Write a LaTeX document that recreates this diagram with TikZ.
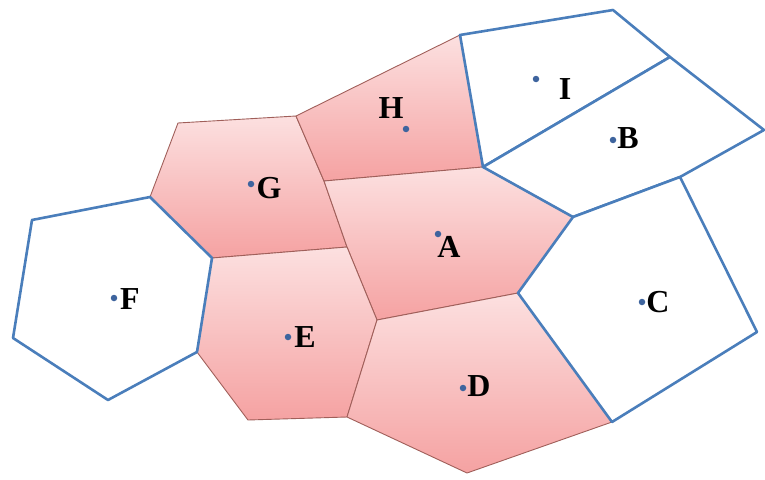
\documentclass[tikz,border=0pt]{standalone}
\usepackage{fontspec}
\setmainfont{Liberation Serif}
\definecolor{cellblue}{RGB}{74,126,187}
\definecolor{dotblue}{RGB}{62,100,158}
\definecolor{pinktop}{RGB}{252,224,224}
\definecolor{pinkbot}{RGB}{245,162,162}
\definecolor{pinkedge}{RGB}{160,95,90}
\tikzset{
  pinkcell/.style={top color=pinktop, bottom color=pinkbot, draw=pinkedge, line width=0.9pt, line join=round},
  whitecell/.style={fill=white, draw=cellblue, line width=2.6pt, line join=round},
  site/.style={circle, fill=dotblue, inner sep=0pt, minimum size=6.5pt},
  lab/.style={inner sep=0pt, font=\fontsize{32}{32}\selectfont\bfseries}
}
\begin{document}
\begin{tikzpicture}[x=1pt,y=-1pt]
\useasboundingbox (0,0) rectangle (765,479);
% vertices
\coordinate (p1) at (32,220);
\coordinate (p2) at (150,197);
\coordinate (p3) at (212,258);
\coordinate (p4) at (197,352);
\coordinate (p5) at (108,400);
\coordinate (p6) at (13,338);
\coordinate (g1) at (178,123);
\coordinate (g2) at (296,116);
\coordinate (g3) at (347,247);
\coordinate (h1) at (460,35);
\coordinate (h2) at (483,167);
\coordinate (h3) at (324,181);
\coordinate (i1) at (613,10);
\coordinate (i2) at (670,57);
\coordinate (b1) at (764,130);
\coordinate (b2) at (680,177);
\coordinate (b3) at (573,217);
\coordinate (c1) at (757,332);
\coordinate (c2) at (612,422);
\coordinate (c3) at (518,293);
\coordinate (a4) at (377,320);
\coordinate (d1) at (467,473);
\coordinate (d2) at (347,417);
\coordinate (e1) at (248,420);
% pink cells
\shade[pinkcell] (g1) -- (g2) -- (h3) -- (g3) -- (p3) -- (p2) -- cycle;
\shade[pinkcell] (g2) -- (h1) -- (h2) -- (h3) -- cycle;
\shade[pinkcell] (h3) -- (h2) -- (b3) -- (c3) -- (a4) -- (g3) -- cycle;
\shade[pinkcell] (p3) -- (g3) -- (a4) -- (d2) -- (e1) -- (p4) -- cycle;
\shade[pinkcell] (a4) -- (c3) -- (c2) -- (d1) -- (d2) -- cycle;
% white cells
\draw[whitecell] (p1) -- (p2) -- (p3) -- (p4) -- (p5) -- (p6) -- cycle;
\draw[whitecell] (h1) -- (i1) -- (i2) -- (h2) -- cycle;
\draw[whitecell] (h2) -- (i2) -- (b1) -- (b2) -- (b3) -- cycle;
\draw[whitecell] (b3) -- (b2) -- (c1) -- (c2) -- (c3) -- cycle;
% sites
\node[site] (sF) at (114,298) {};
\node[site] (sG) at (251,184) {};
\node[site] (sH) at (406,129) {};
\node[site] (sI) at (536,79) {};
\node[site] (sB) at (613,140) {};
\node[site] (sA) at (438,234) {};
\node[site] (sC) at (642,302) {};
\node[site] (sE) at (288,337) {};
\node[site] (sD) at (463,388) {};
% labels
\node[lab] (lF) at (130,299) {F};
\node[lab] (lG) at (269,188) {G};
\node[lab] (lH) at (391,108) {H};
\node[lab] (lI) at (565,89) {I};
\node[lab] (lB) at (628,138) {B};
\node[lab] (lA) at (449,247) {A};
\node[lab] (lC) at (658,302) {C};
\node[lab] (lE) at (305,337) {E};
\node[lab] (lD) at (479,386) {D};
\end{tikzpicture}
\end{document}
